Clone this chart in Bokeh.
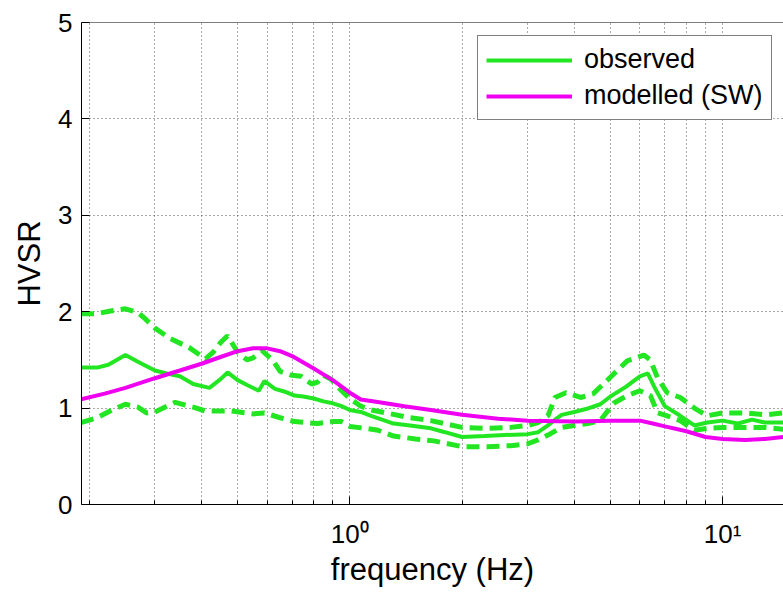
from bokeh.plotting import figure
from bokeh.models import FixedTicker, Legend, LegendItem, Range1d, Span
from bokeh.embed import file_html
from bokeh.resources import INLINE

# ---------------- data ----------------
f_model = [0.19, 0.22, 0.25, 0.3, 0.35, 0.4, 0.45, 0.5, 0.55, 0.6, 0.65, 0.7, 0.8, 0.9,
           1.0, 1.07, 1.2, 1.4, 1.65, 2.0, 2.5, 3.0, 4.0, 5.0, 6.0, 6.5, 7.0, 8.0, 9.0,
           10.0, 11.5, 13.0, 14.6]
hvsr_model = [1.09, 1.15, 1.21, 1.31, 1.39, 1.46, 1.53, 1.59, 1.62, 1.62, 1.59, 1.54, 1.41, 1.29,
              1.16, 1.09, 1.06, 1.02, 0.98, 0.93, 0.89, 0.87, 0.86, 0.87, 0.87, 0.84, 0.81, 0.76, 0.70,
              0.68, 0.67, 0.68, 0.70]

f_obs = [0.19, 0.21, 0.225, 0.25, 0.27, 0.3, 0.33, 0.35, 0.38, 0.42, 0.45, 0.47, 0.5, 0.53,
         0.57, 0.59, 0.63, 0.67, 0.71, 0.75, 0.8, 0.85, 0.9, 0.95, 1.0, 1.07, 1.14, 1.22, 1.31,
         1.45, 1.65, 1.8, 2.0, 2.3, 2.6, 3.0, 3.2, 3.4, 3.55, 3.7, 4.0, 4.3, 4.7, 5.0, 5.5,
         6.0, 6.3, 6.6, 7.0, 7.7, 8.4, 9.1, 10.0, 11.0, 12.0, 13.0, 14.6]
hvsr_obs = [1.42, 1.42, 1.45, 1.55, 1.48, 1.39, 1.35, 1.33, 1.25, 1.21, 1.30, 1.37, 1.29, 1.24,
            1.18, 1.28, 1.20, 1.17, 1.13, 1.12, 1.10, 1.07, 1.05, 1.02, 0.98, 0.96, 0.92, 0.88, 0.84,
            0.82, 0.79, 0.75, 0.70, 0.71, 0.72, 0.73, 0.75, 0.82, 0.88, 0.93, 0.96, 0.99, 1.04, 1.12, 1.22,
            1.33, 1.36, 1.20, 1.02, 0.92, 0.82, 0.85, 0.87, 0.84, 0.88, 0.85, 0.85]

f_upper = [0.19, 0.21, 0.23, 0.25, 0.27, 0.28, 0.3, 0.33, 0.37, 0.41, 0.43, 0.45, 0.47, 0.5,
           0.53, 0.55, 0.58, 0.62, 0.65, 0.7, 0.74, 0.79, 0.82, 0.85, 0.89, 0.95, 1.0, 1.07,
           1.14, 1.29, 1.45, 1.65, 2.0, 2.34, 2.7, 3.0, 3.2, 3.4, 3.55, 3.8, 4.16, 4.5, 5.0,
           5.55, 6.15, 6.4, 6.7, 7.1, 7.7, 8.4, 9.1, 10.0, 11.5, 13.0, 14.6]
hvsr_upper = [1.98, 1.98, 2.01, 2.03, 1.99, 1.94, 1.83, 1.72, 1.63, 1.51, 1.58, 1.68, 1.75, 1.58,
              1.50, 1.52, 1.60, 1.50, 1.38, 1.34, 1.33, 1.25, 1.27, 1.34, 1.30, 1.18, 1.10, 1.02,
              0.98, 0.94, 0.90, 0.87, 0.80, 0.79, 0.80, 0.82, 0.85, 0.92, 1.11, 1.16, 1.11, 1.15, 1.32,
              1.49, 1.55, 1.50, 1.31, 1.16, 1.11, 1.00, 0.92, 0.95, 0.95, 0.93, 0.95]

f_lower = [0.19, 0.21, 0.23, 0.25, 0.27, 0.285, 0.3, 0.34, 0.38, 0.41, 0.48, 0.55, 0.59, 0.65,
           0.71, 0.82, 0.9, 0.95, 1.0, 1.1, 1.19, 1.31, 1.5, 1.68, 2.0, 2.34, 2.7, 3.0, 3.2,
           3.4, 3.7, 4.0, 4.35, 4.7, 5.1, 5.55, 6.0, 6.4, 6.7, 7.1, 7.7, 8.4, 9.1, 10.0, 11.5,
           13.0, 14.6]
hvsr_lower = [0.85, 0.90, 0.98, 1.04, 1.01, 0.95, 0.96, 1.06, 1.01, 0.97, 0.97, 0.94, 0.95, 0.90,
              0.86, 0.84, 0.86, 0.86, 0.81, 0.79, 0.77, 0.71, 0.68, 0.66, 0.60, 0.60, 0.61, 0.63, 0.67,
              0.72, 0.80, 0.82, 0.84, 0.87, 1.05, 1.13, 1.18, 1.13, 0.95, 0.92, 0.87, 0.77, 0.79, 0.80,
              0.80, 0.80, 0.78]

x_major = [0.1, 1, 10]
x_minor = [0.2, 0.3, 0.4, 0.5, 0.6, 0.7, 0.8, 0.9, 2, 3, 4, 5, 6, 7, 8, 9, 20]
x_labels = {1: "10\u2070", 10: "10\u00b9"}
y_ticks = [0, 1, 2, 3, 4, 5]

GREEN = "#22e622"
MAGENTA = "#f000f0"
FONT = "Liberation Sans"

p = figure(width=783, height=592, x_axis_type="log",
           x_range=Range1d(0.1906, 14.57), y_range=Range1d(0, 5),
           output_backend="svg", toolbar_location=None,
           min_border_left=81, min_border_right=0, min_border_top=22, min_border_bottom=88)
p.outline_line_color = None
p.background_fill_color = "white"
p.border_fill_color = "white"

xt = FixedTicker(ticks=x_major, minor_ticks=x_minor)
p.xaxis.ticker = xt
p.xgrid.ticker = xt
p.yaxis.ticker = FixedTicker(ticks=y_ticks)
p.xaxis.major_label_overrides = x_labels

for ax in (p.xaxis, p.yaxis):
    ax.axis_line_color = "black"
    ax.axis_line_width = 1
    ax.major_tick_in = 8
    ax.major_tick_out = 0
    ax.minor_tick_in = 4
    ax.minor_tick_out = 0
    ax.major_tick_line_color = "black"
    ax.minor_tick_line_color = "black"
    ax.major_label_text_font = FONT
    ax.major_label_text_font_size = "26px"
    ax.major_label_text_color = "black"
    ax.axis_label_text_font = FONT
    ax.axis_label_text_font_size = "31px"
    ax.axis_label_text_font_style = "normal"
    ax.axis_label_text_color = "black"

p.yaxis.minor_tick_line_color = None
p.xaxis.axis_label = "frequency (Hz)"
p.yaxis.axis_label = "HVSR"
p.xaxis.major_label_standoff = 14
p.yaxis.major_label_standoff = 9
p.xaxis.axis_label_standoff = 0
p.yaxis.axis_label_standoff = 8

for g in (p.xgrid, p.ygrid):
    g.grid_line_color = "#444444"
    g.grid_line_dash = "1 3"
    g.grid_line_width = 1
    g.grid_line_alpha = 0.9
p.xgrid.minor_grid_line_color = "#444444"
p.xgrid.minor_grid_line_dash = "1 3"
p.xgrid.minor_grid_line_alpha = 0.9

p.add_layout(Span(location=5, dimension="width", line_color="black", line_width=1))

r_up = p.line(f_upper, hvsr_upper, line_color=GREEN, line_width=5, line_dash="13 7")
r_lo = p.line(f_lower, hvsr_lower, line_color=GREEN, line_width=5, line_dash="13 7")
r_obs = p.line(f_obs, hvsr_obs, line_color=GREEN, line_width=4)
r_mod = p.line(f_model, hvsr_model, line_color=MAGENTA, line_width=4)

legend = Legend(items=[LegendItem(label="observed", renderers=[r_obs]),
                       LegendItem(label="modelled (SW)", renderers=[r_mod])],
                location=(396, 384))
legend.label_text_font = FONT
legend.label_text_font_size = "27px"
legend.label_text_color = "black"
legend.glyph_width = 86
legend.glyph_height = 28
legend.label_height = 28
legend.spacing = 5
legend.padding = 8
legend.label_standoff = 12
legend.margin = 0
legend.border_line_color = "black"
legend.border_line_width = 1
legend.background_fill_color = "white"
legend.background_fill_alpha = 1
p.add_layout(legend, "center")

open("out.html", "w").write(file_html(p, INLINE))
